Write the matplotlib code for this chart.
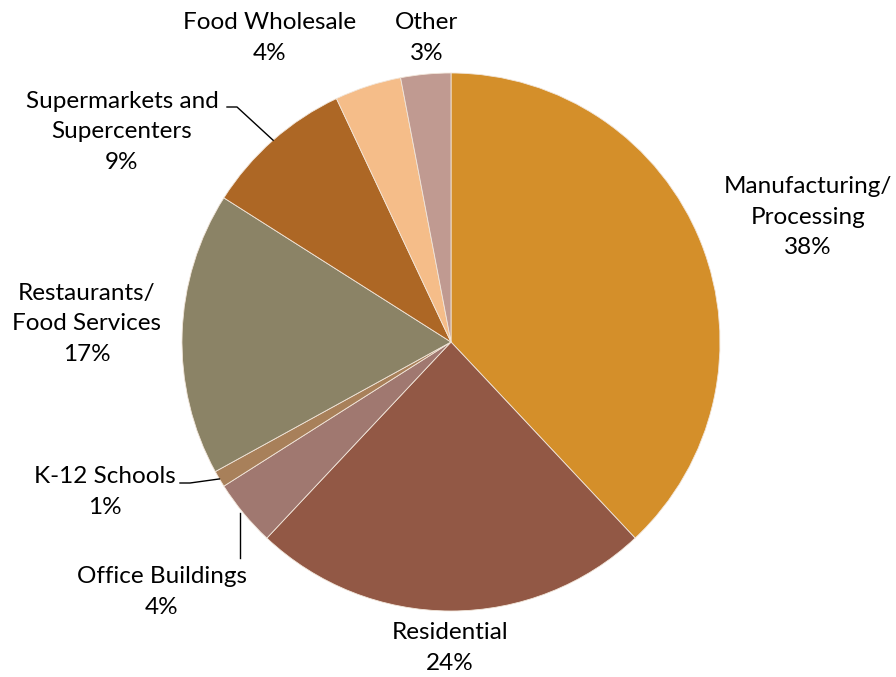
import numpy as np
import matplotlib.pyplot as plt

# share of food waste by sector (%), clockwise from 12 o'clock
sectors = ['Manufacturing/\nProcessing', 'Residential', 'Office Buildings',
           'K-12 Schools', 'Restaurants/\nFood Services',
           'Supermarkets and\nSupercenters', 'Food Wholesale', 'Other']
shares = [38, 24, 4, 1, 17, 9, 4, 3]
colors = ['#D48F2A', '#925845', '#A07870', '#A8805A', '#8B8366',
          '#AD6725', '#F5BD89', '#C09A91']

W, H = 896, 677
cx, cy, r = 451, H - 342, 269

# label block centres in pixel coords (y measured from the top)
label_pos = [(808, 217), (450, 648), (162, 592), (105, 492),
             (87, 324), (122, 132), (270, 38), (427, 38)]
# where the leader line leaves the label (None = no leader)
leader_start = [None, None, (240, 558), (180, 483), None,
                (227, 107), None, None]

plt.rcParams['font.family'] = ['Lato', 'DejaVu Sans']

fig = plt.figure(figsize=(W / 100, H / 100), dpi=100)
ax = fig.add_axes([0, 0, 1, 1])

wedges, _ = ax.pie(shares, colors=colors, startangle=90, counterclock=False,
                   center=(cx, cy), radius=r,
                   wedgeprops=dict(edgecolor='#F2E6DA', linewidth=0.6))

total = sum(shares)
cum = np.cumsum([0] + shares[:-1])
for i, (name, val) in enumerate(zip(sectors, shares)):
    lx, ly = label_pos[i]
    ax.text(lx, H - ly, f'{name}\n{val}%', ha='center', va='center',
            fontsize=17.5, color='#000000', linespacing=1.55)
    if leader_start[i] is not None:
        mid = np.deg2rad(90 - 360 * (cum[i] + val / 2) / total)
        ex, ey = cx + r * np.cos(mid), cy + r * np.sin(mid)
        sx, sy = leader_start[i]
        sy = H - sy
        if abs(ex - sx) < 8:
            xs, ys = [sx, sx], [sy, ey]
        else:
            kx = sx + 10 * np.sign(ex - sx)
            xs, ys = [sx, kx, ex], [sy, sy, ey]
        ax.plot(xs, ys, color='black', lw=1)

ax.set_xlim(0, W)
ax.set_ylim(0, H)
ax.set_aspect('auto')
ax.axis('off')

fig.savefig('out.png', dpi=100)
